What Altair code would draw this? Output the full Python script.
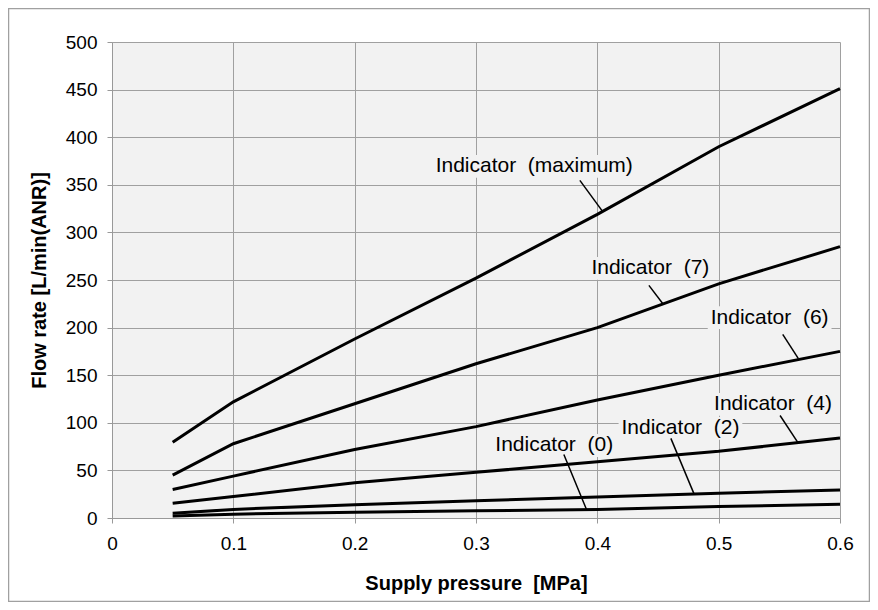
import altair as alt
import pandas as pd

# ---- data ----
pressure = [0.05, 0.1, 0.2, 0.3, 0.4, 0.5, 0.6]
flow_max = [79.5, 122, 188, 252, 319, 390, 451]
flow_7 = [45, 78, 120, 162, 200, 246, 285]
flow_6 = [30, 44, 72, 96, 124, 150, 175]
flow_4 = [15.5, 22.5, 37, 48, 59, 70, 84]
flow_2 = [5, 9, 14, 18, 22, 26, 29.5]
flow_0 = [2, 4, 6, 7.5, 9, 12, 14.5]

series_names = ["Indicator (maximum)", "Indicator (7)", "Indicator (6)",
                "Indicator (4)", "Indicator (2)", "Indicator (0)"]
series_values = [flow_max, flow_7, flow_6, flow_4, flow_2, flow_0]

# annotation labels (centre in data units) and leader lines
NB = " \u00a0"
label_text = ["Indicator" + NB + "(maximum)", "Indicator" + NB + "(7)", "Indicator" + NB + "(6)",
              "Indicator" + NB + "(4)", "Indicator" + NB + "(2)", "Indicator" + NB + "(0)"]
label_x = [0.348, 0.4437, 0.542, 0.5448, 0.4685, 0.3645]
label_y = [369.4, 262.2, 210.4, 119.3, 94.1, 76.2]
label_halfw = [0.085, 0.051, 0.051, 0.051, 0.051, 0.051]
leader_x1 = [0.3856, 0.4425, 0.5528, 0.5506, 0.4606, 0.3724]
leader_y1 = [354.7, 244.4, 192.9, 107.7, 83.6, 66.7]
leader_x2 = [0.4046, 0.4540, 0.5657, 0.5652, 0.4796, 0.3910]
leader_y2 = [321.5, 225.0, 167.5, 79.5, 25.6, 9.2]

x_ticks = [0, 0.1, 0.2, 0.3, 0.4, 0.5, 0.6]
y_ticks = [0, 50, 100, 150, 200, 250, 300, 350, 400, 450, 500]

FONT = "Liberation Sans"
W, H = 728, 476

rows = []
for name, vals in zip(series_names, series_values):
    for p, v in zip(pressure, vals):
        rows.append({"series": name, "p": p, "q": v})
df = pd.DataFrame(rows)

lab = pd.DataFrame({
    "text": label_text, "x": label_x, "y": label_y,
    "x0": [a - b for a, b in zip(label_x, label_halfw)],
    "x1": [a + b for a, b in zip(label_x, label_halfw)],
    "y0": [a - 12 for a in label_y], "y1": [a + 12 for a in label_y],
})
lead = pd.DataFrame({"x": leader_x1, "y": leader_y1, "x2": leader_x2, "y2": leader_y2})

xs = alt.Scale(domain=[0, 0.6], nice=False, zero=False)
ys = alt.Scale(domain=[0, 500], nice=False)

x_axis = alt.Axis(values=x_ticks, format="~g", title="Supply pressure \u00a0[MPa]",
                  labelFont=FONT, labelFontSize=19, labelColor="#000",
                  titleFont=FONT, titleFontSize=20, titleFontWeight="bold", titleColor="#000",
                  labelPadding=11, titlePadding=20, tickSize=5, tickColor="#999",
                  domainColor="#999", gridColor="#a0a0a0", labelFlush=False)
y_axis = alt.Axis(values=y_ticks, title="Flow rate [L/min(ANR)]",
                  labelFont=FONT, labelFontSize=19, labelColor="#000",
                  titleFont=FONT, titleFontSize=20, titleFontWeight="bold", titleColor="#000",
                  labelPadding=10, titlePadding=16, tickSize=5, tickColor="#999",
                  domainColor="#999", gridColor="#a0a0a0")

lines = alt.Chart(df).mark_line(color="black", strokeWidth=3).encode(
    x=alt.X("p:Q", scale=xs, axis=x_axis),
    y=alt.Y("q:Q", scale=ys, axis=y_axis),
    detail="series:N",
)

boxes = alt.Chart(lab).mark_rect(color="#f2f2f2").encode(
    x=alt.X("x0:Q", scale=xs), x2="x1:Q",
    y=alt.Y("y0:Q", scale=ys), y2="y1:Q",
)

leaders = alt.Chart(lead).mark_rule(color="black", strokeWidth=1.5).encode(
    x=alt.X("x:Q", scale=xs), y=alt.Y("y:Q", scale=ys), x2="x2:Q", y2="y2:Q",
)

texts = alt.Chart(lab).mark_text(font=FONT, fontSize=21, color="black",
                                 align="center", baseline="middle").encode(
    x=alt.X("x:Q", scale=xs), y=alt.Y("y:Q", scale=ys), text="text:N",
)

frame = alt.Chart(pd.DataFrame({"a": [0]})).mark_rect(
    fill=None, stroke="#a0a0a0", strokeWidth=1.5, clip=False
).encode(
    x=alt.value(-103.5), x2=alt.value(W + 29.5),
    y=alt.value(-33.5), y2=alt.value(H + 83.5),
)

chart = alt.layer(boxes, lines, leaders, texts, frame).properties(
    width=W, height=H,
    autosize=alt.AutoSizeParams(type="none"),
    padding={"left": 104, "top": 34, "right": 30, "bottom": 84},
    background="white",
).configure_view(fill="#f2f2f2", stroke=None)

chart.save("out.html", embed_options={"renderer": "svg", "actions": False})
